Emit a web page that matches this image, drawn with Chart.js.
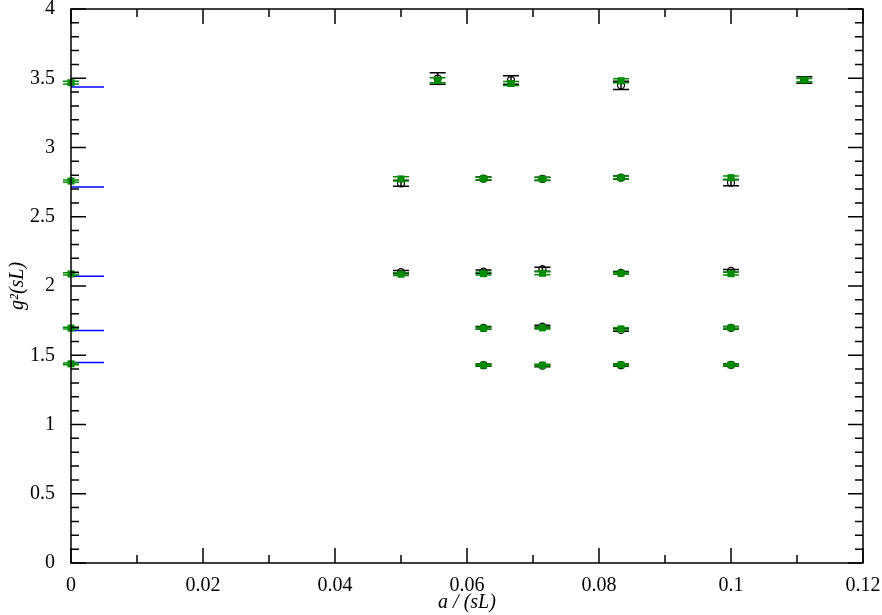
<!DOCTYPE html>
<html>
<head>
<meta charset="utf-8">
<script src="https://cdn.jsdelivr.net/npm/chart.js@4.4.0/dist/chart.umd.min.js"></script>
<style>
html, body { margin: 0; padding: 0; background: #fff; }
#wrap { width: 882px; height: 615px; }
</style>
</head>
<body>
<div id="wrap"><canvas id="chart"></canvas></div>
<script>
// lattice spacing a/(sL) of each measured point
var latticeA = [1/18, 1/15, 1/12, 1/9,
                1/20, 1/16, 1/14, 1/12, 1/10,
                1/20, 1/16, 1/14, 1/12, 1/10,
                1/16, 1/14, 1/12, 1/10,
                1/16, 1/14, 1/12, 1/10];
// black open circles
var blackG2  = [3.498, 3.487, 3.449, 3.487,
                2.742, 2.775, 2.773, 2.782, 2.746,
                2.100, 2.104, 2.121, 2.095, 2.109,
                1.697, 1.707, 1.683, 1.698,
                1.428, 1.425, 1.428, 1.431];
var blackErr = [0.042, 0.031, 0.030, 0.024,
                0.022, 0.012, 0.012, 0.012, 0.022,
                0.012, 0.012, 0.015, 0.010, 0.010,
                0.010, 0.010, 0.010, 0.010,
                0.008, 0.008, 0.008, 0.008];
// green filled squares
var greenG2  = [3.485, 3.462, 3.482, 3.487,
                2.773, 2.775, 2.773, 2.782, 2.782,
                2.085, 2.089, 2.092, 2.092, 2.089,
                1.695, 1.698, 1.690, 1.698,
                1.428, 1.428, 1.431, 1.431];
var greenErr = [0.018, 0.014, 0.014, 0.012,
                0.015, 0.010, 0.010, 0.010, 0.012,
                0.010, 0.010, 0.010, 0.008, 0.010,
                0.008, 0.008, 0.008, 0.008,
                0.006, 0.006, 0.006, 0.006];
// continuum values at a = 0
var contG2  = [3.468, 2.758, 2.087, 1.696, 1.438];
var contErr = [0.010, 0.008, 0.008, 0.006, 0.006];
// blue reference marks at the left edge
var blueG2 = [3.437, 2.715, 2.071, 1.678, 1.447];
var blueEnd = 0.005;

var xTicks = [0, 0.02, 0.04, 0.06, 0.08, 0.1, 0.12];
var yTicks = [0, 0.5, 1, 1.5, 2, 2.5, 3, 3.5, 4];

var GREEN = 'rgb(0,140,0)';
var FONT = "'Liberation Serif', 'Times New Roman', serif";

function pts(xs, ys) {
	return xs.map(function (x, i) { return { x: x, y: ys[i] }; });
}

var datasets = [];
datasets.push({
	label: 'green', type: 'scatter', order: 0, clip: false,
	data: pts(latticeA, greenG2).concat(pts(contG2.map(function () { return 0; }), contG2)),
	errors: greenErr.concat(contErr), errColor: GREEN,
	pointStyle: 'rect', pointRadius: 5, pointBackgroundColor: GREEN, pointBorderColor: GREEN, pointBorderWidth: 0
});
datasets.push({
	label: 'black', type: 'scatter', order: 1, clip: false,
	data: pts(latticeA, blackG2),
	errors: blackErr, errColor: '#000',
	pointStyle: 'circle', pointRadius: 3.5, pointBackgroundColor: 'rgba(0,0,0,0)', pointBorderColor: '#000', pointBorderWidth: 1.3
});
blueG2.forEach(function (v) {
	datasets.push({
		type: 'line', order: 2, clip: false,
		data: [{ x: 0, y: v }, { x: blueEnd, y: v }],
		borderColor: '#0000ff', borderWidth: 1.5, pointRadius: 0
	});
});

var errorBars = {
	id: 'errorBars',
	beforeDatasetDraw: function (chart, args) {
		var ds = chart.data.datasets[args.index];
		if (!ds.errors) return;
		var ys = chart.scales.y, ctx = chart.ctx;
		ctx.save();
		ctx.strokeStyle = ds.errColor;
		ctx.lineWidth = 1.5;
		args.meta.data.forEach(function (el, i) {
			var v = ds.data[i].y, e = ds.errors[i];
			var top = ys.getPixelForValue(v + e), bot = ys.getPixelForValue(v - e);
			ctx.beginPath();
			ctx.moveTo(el.x, top); ctx.lineTo(el.x, bot);
			ctx.moveTo(el.x - 8, top); ctx.lineTo(el.x + 8, top);
			ctx.moveTo(el.x - 8, bot); ctx.lineTo(el.x + 8, bot);
			ctx.stroke();
		});
		ctx.restore();
	}
};

var frameTicks = {
	id: 'frameTicks',
	afterDraw: function (chart) {
		var a = chart.chartArea, ctx = chart.ctx;
		var xs = chart.scales.x, ys = chart.scales.y;
		ctx.save();
		ctx.strokeStyle = '#000';
		ctx.lineWidth = 1.5;
		ctx.strokeRect(a.left, a.top, a.right - a.left, a.bottom - a.top);
		ctx.beginPath();
		for (var i = 0; i <= 12; i++) {
			var px = xs.getPixelForValue(i * 0.01), L = (i % 2 === 0) ? 15 : 8;
			ctx.moveTo(px, a.bottom); ctx.lineTo(px, a.bottom - L);
			ctx.moveTo(px, a.top); ctx.lineTo(px, a.top + L);
		}
		for (var j = 0; j <= 40; j++) {
			var py = ys.getPixelForValue(j * 0.1), M = (j % 5 === 0) ? 15 : 8;
			ctx.moveTo(a.left, py); ctx.lineTo(a.left + M, py);
			ctx.moveTo(a.right, py); ctx.lineTo(a.right - M, py);
		}
		ctx.stroke();
		ctx.restore();
	}
};

new Chart(document.getElementById('chart'), {
	type: 'scatter',
	data: { datasets: datasets },
	plugins: [errorBars, frameTicks],
	options: {
		responsive: true,
		maintainAspectRatio: false,
		animation: false,
		layout: { padding: { top: 9, right: 19, left: 0, bottom: 0 } },
		plugins: { legend: { display: false }, tooltip: { enabled: false } },
		scales: {
			x: {
				type: 'linear', min: 0, max: 0.12,
				grid: { display: false }, border: { display: false },
				afterBuildTicks: function (s) { s.ticks = xTicks.map(function (v) { return { value: v }; }); },
				afterFit: function (s) { s.height = 52; s.paddingLeft = 0; s.paddingRight = 0; },
				ticks: {
					padding: 3, color: '#000', maxRotation: 0,
					font: { family: FONT, size: 20 },
					callback: function (v) { return String(parseFloat(v.toFixed(2))); }
				},
				title: {
					display: true, text: 'a / (sL)', color: '#000',
					font: { family: FONT, size: 20, style: 'italic' },
					padding: { top: 0, bottom: 0 }
				}
			},
			y: {
				type: 'linear', min: 0, max: 4,
				grid: { display: false }, border: { display: false },
				afterBuildTicks: function (s) { s.ticks = yTicks.map(function (v) { return { value: v }; }); },
				afterFit: function (s) { s.width = 71; s.paddingTop = 0; s.paddingBottom = 0; },
				ticks: {
					padding: 8, color: '#000',
					font: { family: FONT, size: 20 },
					callback: function (v) { return String(parseFloat(v.toFixed(1))); }
				},
				title: {
					display: true, text: 'g\u00B2(sL)', color: '#000',
					font: { family: FONT, size: 20, style: 'italic' },
					padding: { top: 6, bottom: 4 }
				}
			}
		}
	}
});
</script>
</body>
</html>
